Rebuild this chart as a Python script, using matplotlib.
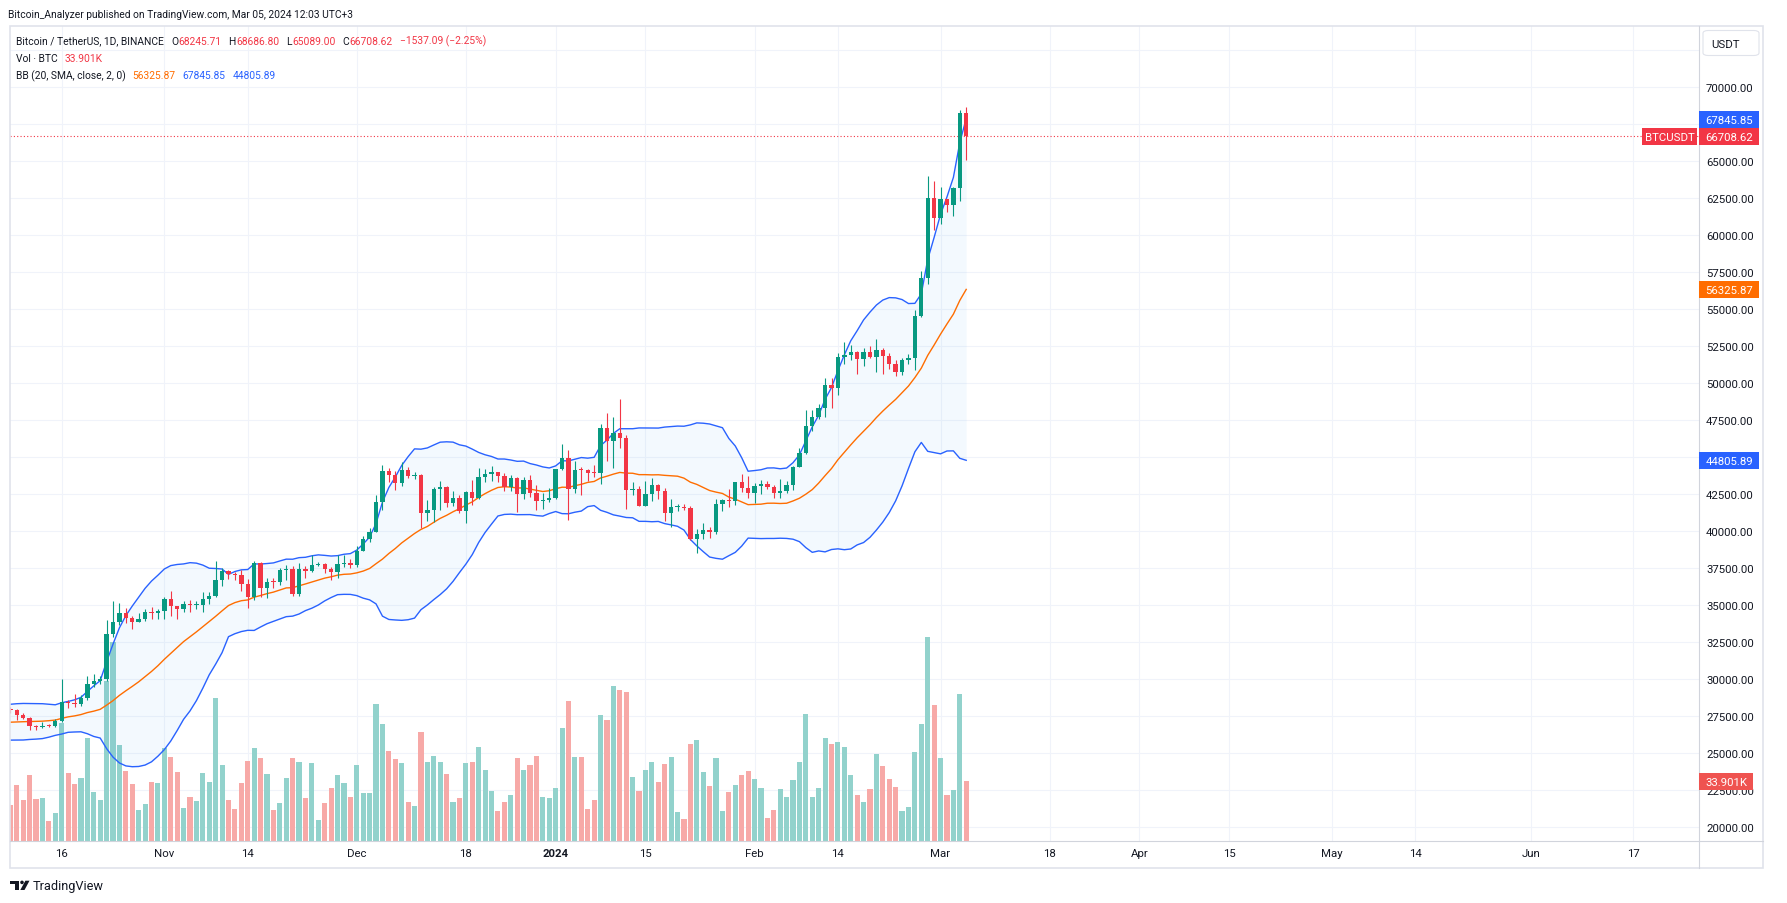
import numpy as np
import pandas as pd
import matplotlib
matplotlib.use("Agg")
import matplotlib.pyplot as plt
import matplotlib.dates as mdates
from matplotlib.patches import Rectangle, Polygon, Ellipse, FancyBboxPatch
from matplotlib.lines import Line2D
from matplotlib.transforms import blended_transform_factory

plt.rcParams['font.family'] = ['Roboto', 'DejaVu Sans']

# closes Sep 19 - Oct 7 2023, only used to warm up the 20 day bands
warmup_close = [27211, 27132, 26567, 26580, 26580, 26256, 26298, 26217, 26353, 27021,
                26911, 26967, 27983, 27531, 27429, 27794, 27410, 27932, 27957]

first_day = '2023-10-08'
opens = [
    # Oct 8-31
    27957, 27917, 27590, 27390, 26875, 26760, 26863, 26853, 27154, 28500, 28395, 28320,
    28714, 29670, 29910, 29993, 33086, 33902, 34497, 34152, 33892, 34082, 34526, 34475,
    # Nov
    34640, 35422, 34938, 34732, 35082, 35020, 35038, 35424, 35625, 36695, 37314, 37130,
    37064, 36462, 35551, 37880, 36154, 36596, 36568, 37360, 37449, 35750, 37420, 37289,
    37721, 37796, 37480, 37241, 37820, 37855,
    # Dec
    37712, 38688, 39476, 39979, 41980, 44080, 43773, 43292, 44167, 43726, 43790, 41244,
    41450, 42890, 43023, 41941, 42278, 41374, 42657, 42271, 43668, 43861, 43998, 43739,
    43017, 43614, 42520, 43442, 42581, 42066, 42140,
    # Jan
    42283, 44180, 44946, 42845, 44151, 44145, 43968, 43929, 46951, 46110, 46632, 46314,
    42782, 42847, 41732, 42511, 43143, 42742, 41262, 41618, 41665, 41545, 39508, 39845,
    40077, 39934, 41816, 42120, 42036, 43303, 42941,
    # Feb
    42580, 43082, 43200, 43011, 42582, 42708, 43098, 44349, 45288, 47132, 47751, 48299,
    49917, 49699, 51795, 51880, 52124, 51642, 52137, 51774, 52258, 51849, 51288, 50745,
    51572, 51733, 54522, 57085, 62504,
    # Mar
    61198, 62440, 62029, 63168, 68245.71]
highs = [
    28120, 27990, 27735, 27480, 26940, 27100, 26990, 27290, 30000, 28613, 28982, 28933,
    30207, 30344, 30200, 34000, 35280, 35132, 34830, 34245, 34488, 34750, 34857, 34720,
    35580, 35984, 34940, 35283, 35380, 35275, 35890, 35900, 37972, 37526, 37400, 37228,
    37417, 36744, 37980, 37934, 36845, 36832, 37540, 37750, 37650, 37892, 37653, 38414,
    37893, 37833, 37590, 38400, 38430, 38150,
    38998, 39700, 40250, 42420, 44490, 44300, 44044, 44700, 44370, 44040, 43843, 42105,
    43000, 43413, 43080, 42700, 42430, 42757, 43497, 44283, 44242, 44398, 44016, 43946,
    43802, 43650, 43683, 43804, 43124, 42612, 42899,
    44184, 45879, 45500, 44729, 44357, 44214, 44495, 47248, 47972, 47695, 48969, 46515,
    43346, 43079, 43400, 43578, 43198, 42930, 42195, 41865, 41870, 41689, 40127, 40555,
    40300, 42209, 42200, 42842, 43305, 43882, 43745,
    43285, 43488, 43380, 43119, 43535, 43400, 44396, 45614, 48200, 48170, 48592, 50334,
    50368, 52043, 52816, 52574, 52163, 52378, 52488, 52985, 52366, 52065, 51548, 51684,
    51958, 54938, 57588, 64000, 63676,
    63230, 62485, 63230, 68499, 68686.80]
lows = [
    27710, 27260, 27300, 26550, 26560, 26690, 26800, 26810, 27113, 28070, 28140, 28180,
    28600, 29460, 29660, 29880, 32840, 33700, 33830, 33390, 33870, 33930, 34080, 34060,
    34100, 34300, 34100, 34575, 34520, 34730, 34520, 35100, 35535, 36327, 36750, 36710,
    35950, 34800, 35360, 35545, 35510, 36160, 36400, 36700, 35632, 35632, 36870, 37250,
    37640, 37150, 36700, 36860, 37580, 37500,
    37600, 38650, 39300, 39960, 41420, 43335, 42820, 43080, 43580, 43565, 40222, 40680,
    40600, 41425, 41666, 41700, 41250, 40540, 41792, 42206, 43300, 43412, 43308, 42749,
    42720, 41300, 42167, 42318, 41424, 41520, 41965,
    42181, 44148, 40750, 42613, 42450, 43397, 43662, 43175, 44748, 44300, 45606, 41500,
    42436, 41720, 41718, 42050, 42200, 40683, 40280, 41394, 41450, 39431, 38555, 39484,
    39550, 39825, 41394, 41620, 41804, 42684, 42276,
    41884, 42546, 42881, 42222, 42258, 42574, 42788, 44331, 45242, 46800, 47557, 47710,
    48300, 49225, 51314, 51562, 50625, 51163, 51677, 50760, 50625, 50940, 50521, 50585,
    51279, 50931, 54450, 56690, 60364,
    60777, 61600, 61320, 62300, 65089.00]
closes = [
    27917, 27590, 27390, 26875, 26760, 26863, 26853, 27154, 28500, 28395, 28320, 28714,
    29670, 29910, 29993, 33086, 33902, 34497, 34152, 33892, 34082, 34526, 34475, 34640,
    35422, 34938, 34732, 35082, 35020, 35038, 35424, 35625, 36695, 37314, 37130, 37064,
    36462, 35551, 37880, 36154, 36596, 36568, 37360, 37449, 35750, 37420, 37289, 37721,
    37796, 37480, 37241, 37820, 37855, 37712,
    38688, 39476, 39979, 41980, 44080, 43773, 43292, 44167, 43726, 43790, 41244, 41450,
    42890, 43023, 41941, 42278, 41374, 42657, 42271, 43668, 43861, 43998, 43739, 43017,
    43614, 42520, 43442, 42581, 42066, 42140, 42283,
    44180, 44946, 42845, 44151, 44145, 43968, 43929, 46951, 46110, 46632, 46314, 42782,
    42847, 41732, 42511, 43143, 42742, 41262, 41618, 41665, 41545, 39508, 39845, 40077,
    39934, 41816, 42120, 42036, 43303, 42941, 42580,
    43082, 43200, 43011, 42582, 42708, 43098, 44349, 45288, 47132, 47751, 48299, 49917,
    49699, 51795, 51880, 52124, 51642, 52137, 51774, 52258, 51849, 51288, 50745, 51572,
    51733, 54522, 57085, 62504, 61198,
    62440, 62029, 63168, 68245.71, 66708.62]
# volume in thousand BTC
volume_k = [
    20.3, 31.6, 23.1, 37.3, 23.7, 24.2, 11.2, 15.7, 66.9, 38.4, 32.2, 35.6,
    58.3, 27.7, 23.1, 90.9, 113.1, 54.4, 39.6, 32.2, 17.4, 20.8, 33.3, 32.8,
    52.7, 47.5, 39.0, 18.8, 24.8, 22.5, 38.4, 33.3, 81.1, 43.0, 23.1, 18.0,
    32.8, 45.3, 52.7, 47.0, 37.9, 17.4, 21.4, 35.6, 47.0, 44.7, 24.2, 44.1,
    11.7, 21.4, 29.9, 37.3, 32.8, 24.8,
    43.0, 27.1, 27.1, 77.7, 66.3, 50.9, 46.4, 44.0, 22.0, 20.0, 62.0, 45.0,
    48.0, 45.0, 38.0, 22.0, 24.0, 44.0, 45.0, 53.0, 40.0, 28.0, 17.0, 22.0,
    26.0, 47.0, 40.0, 43.0, 48.0, 25.0, 24.0,
    30.0, 64.0, 79.4, 47.5, 47.5, 18.0, 23.1, 71.4, 68.6, 87.9, 85.6, 84.5,
    36.2, 28.2, 40.2, 44.7, 33.3, 43.6, 47.5, 16.3, 12.3, 54.9, 57.2, 39.0,
    31.1, 47.0, 16.9, 27.7, 31.6, 37.3, 39.6,
    35.0, 29.9, 12.9, 17.4, 29.4, 24.8, 34.5, 44.7, 72.0, 24.8, 29.9, 58.3,
    54.9, 56.1, 53.2, 37.3, 25.9, 22.0, 29.4, 49.2, 42.4, 35.0, 30.5, 16.9,
    19.1, 50.4, 66.3, 115.7, 77.1,
    47.0, 25.9, 28.8, 83.3, 33.901]

tick_dates = ['2023-10-16', '2023-11-01', '2023-11-14', '2023-12-01', '2023-12-18',
              '2024-01-01', '2024-01-15', '2024-02-01', '2024-02-14', '2024-03-01',
              '2024-03-18', '2024-04-01', '2024-04-15', '2024-05-01', '2024-05-14',
              '2024-06-01', '2024-06-17']
tick_labels = ['16', 'Nov', '14', 'Dec', '18', '2024', '15', 'Feb', '14', 'Mar',
               '18', 'Apr', '15', 'May', '14', 'Jun', '17']
price_ticks = [20000, 22500, 25000, 27500, 30000, 32500, 35000, 37500, 40000, 42500,
               45000, 47500, 50000, 52500, 55000, 57500, 60000, 62500, 65000, 67500, 70000]
# these two sit fully under the price tags
hidden_ticks = [45000, 67500]

last_close = 66708.62
bb_last = {'basis': 56325.87, 'upper': 67845.85, 'lower': 44805.89}
last_vol_text = '33.901K'

UP, DOWN = '#089981', '#F23645'
VUP, VDOWN = '#92D2CC', '#F7A9A7'
BLUE, ORANGE = '#2962FF', '#FF6D00'
TXT = '#131722'
GRID = '#F0F3FA'
LINEC = '#E0E3EB'

W, H = 1787, 904
fig = plt.figure(figsize=(W / 100, H / 100), dpi=100)
fig.patch.set_facecolor('white')


def fx(x):
    return x / W


def fy(y):
    return 1 - y / H


PL, PR, PT, PB = 10, 1699, 27, 841.7
rect = [fx(PL), fy(PB), (PR - PL) / W, (PB - PT) / H]
ax_vol = fig.add_axes(rect)
ax = fig.add_axes(rect, sharex=ax_vol)
ax.patch.set_visible(False)

dates = pd.date_range(first_day, periods=len(closes), freq='D')
xd = mdates.date2num(dates)
o = np.array(opens, float)
h = np.array(highs, float)
l = np.array(lows, float)
c = np.array(closes, float)
up = c >= o

# x scale: 6.415 px per day, Oct 16 sits at x=61.7
ref = mdates.date2num(pd.Timestamp('2023-10-16'))
ppd = 6.415
ax.set_xlim(ref - (61.7 - PL) / ppd, ref + (PR - 61.7) / ppd)
ax.set_ylim(19095, 74142)
ax_vol.set_ylim(0, (PB - PT) / 1.76)

# volume
ax_vol.bar(xd, volume_k, width=0.8, color=np.where(up, VUP, VDOWN), linewidth=0, zorder=2)

# grid (kept under the volume bars)
tx = mdates.date2num(pd.to_datetime(tick_dates))
for t in tx:
    ax_vol.axvline(t, color=GRID, lw=0.8, zorder=0)
gtrans = blended_transform_factory(ax_vol.transAxes, ax.transData)
for p in price_ticks + [72500]:
    ax_vol.add_line(Line2D([0, 1], [p, p], transform=gtrans, color=GRID, lw=0.8, zorder=0))

# bollinger bands 20, 2
s = pd.Series(warmup_close + closes, dtype=float)
n0 = len(warmup_close)
basis = s.rolling(20).mean().to_numpy()[n0:]
dev = s.rolling(20).std(ddof=0).to_numpy()[n0:]
upper = basis + 2 * dev
lower = basis - 2 * dev
ax.fill_between(xd, lower, upper, color='#2196F3', alpha=0.05, lw=0, zorder=1)
ax.plot(xd, upper, color=BLUE, lw=1.0, zorder=2)
ax.plot(xd, lower, color=BLUE, lw=1.0, zorder=2)
ax.plot(xd, basis, color=ORANGE, lw=1.0, zorder=2)

# candles
cols = np.where(up, UP, DOWN)
ax.vlines(xd, l, h, colors=cols, lw=0.8, zorder=3)
body = np.maximum(np.abs(c - o), 70)
ax.bar(xd, body, bottom=np.minimum(o, c), width=0.68, color=cols, linewidth=0, zorder=4)

ax.axhline(last_close, color=DOWN, lw=0.8, ls=(0, (1, 2)), zorder=2)

# axes cosmetics
for a in (ax, ax_vol):
    for sp in a.spines.values():
        sp.set_visible(False)
ax_vol.tick_params(left=False, labelleft=False, bottom=False, labelbottom=False)
ax.yaxis.tick_right()
ax.set_yticks(price_ticks)
ax.set_yticklabels(['' if p in hidden_ticks else f'{p:.2f}' for p in price_ticks])
ax.tick_params(axis='y', length=0, pad=5, labelsize=8.2, labelcolor=TXT)
ax.set_xticks(tx)
ax.set_xticklabels(tick_labels)
ax.tick_params(axis='x', length=0, pad=5.5, labelsize=8.2, labelcolor=TXT)
for lbl in ax.get_xticklabels():
    if lbl.get_text() == '2024':
        lbl.set_fontweight('bold')

# frame and separators
fig.add_artist(Rectangle((fx(9.5), fy(868.5)), (1762.5 - 9.5) / W, (868.5 - 27) / H,
                         transform=fig.transFigure, fill=False, ec=LINEC, lw=1.2, zorder=3))
fig.add_artist(Line2D([fx(PR), fx(PR)], [fy(27), fy(868.5)], transform=fig.transFigure,
                      color='#D1D4DC', lw=0.8, zorder=3))
fig.add_artist(Line2D([fx(PL), fx(1762.5)], [fy(PB), fy(PB)], transform=fig.transFigure,
                      color='#D1D4DC', lw=0.8, zorder=3))


def tag(ypx, x0, x1, color, text):
    fig.add_artist(Rectangle((fx(x0), fy(ypx + 8.5)), (x1 - x0) / W, 17 / H,
                             transform=fig.transFigure, fc=color, ec='none', zorder=5))
    fig.text(fx((x0 + x1) / 2), fy(ypx + 0.5), text, color='white', fontsize=8.2,
             ha='center', va='center', zorder=6)


def price_y(v, a=ax):
    return H - a.transData.transform((xd[0], v))[1]


tag(price_y(bb_last['upper']), PR, 1759, BLUE, f"{bb_last['upper']:.2f}")
tag(price_y(last_close), PR, 1759, DOWN, f'{last_close:.2f}')
tag(price_y(last_close), 1642, 1697, DOWN, 'BTCUSDT')
tag(price_y(bb_last['basis']), PR, 1759, ORANGE, f"{bb_last['basis']:.2f}")
tag(price_y(bb_last['lower']), PR, 1759, BLUE, f"{bb_last['lower']:.2f}")
tag(price_y(volume_k[-1], ax_vol), PR, 1753, '#EF5350', last_vol_text)

# USDT button
fig.add_artist(FancyBboxPatch((fx(1703), fy(56.5)), (1759 - 1703) / W, 25 / H,
                              boxstyle='round,pad=0,rounding_size=0.003',
                              transform=fig.transFigure, fc='white', ec=LINEC, lw=0.8, zorder=5))
fig.text(fx(1711), fy(44.5), 'USDT', color=TXT, fontsize=8.2, va='center', zorder=6)

# header and legend
fs = 7.4
renderer = fig.canvas.get_renderer()


def text_row(x, y, pieces):
    # pieces: (text, colour, gap in px to the next piece)
    for txt, col, gap in pieces:
        t = fig.text(fx(x), fy(y), txt, color=col, fontsize=fs, va='center')
        x += t.get_window_extent(renderer).width + gap


fig.text(fx(8), fy(15.5), 'Bitcoin_Analyzer published on TradingView.com, Mar 05, 2024 12:03 UTC+3',
         color=TXT, fontsize=fs, va='center')
text_row(16, 41.7, [('Bitcoin / TetherUS, 1D, BINANCE', TXT, 7),
                    ('O', TXT, 0.5), ('68245.71', DOWN, 7),
                    ('H', TXT, 0.5), ('68686.80', DOWN, 7),
                    ('L', TXT, 0.5), ('65089.00', DOWN, 7),
                    ('C', TXT, 0.5), ('66708.62', DOWN, 7),
                    ('\u22121537.09 (\u22122.25%)', DOWN, 0)])
text_row(16, 59.3, [('Vol \u00b7 BTC', TXT, 7), (last_vol_text, DOWN, 0)])
text_row(16, 76, [('BB (20, SMA, close, 2, 0)', TXT, 7),
                  (f"{bb_last['basis']:.2f}", ORANGE, 7),
                  (f"{bb_last['upper']:.2f}", BLUE, 7),
                  (f"{bb_last['lower']:.2f}", BLUE, 0)])

# TradingView logo
logo = dict(transform=fig.transFigure, fc=TXT, ec='none', zorder=5)
fig.add_artist(Rectangle((fx(10), fy(885.2)), 9.3 / W, 3.5 / H, **logo))
fig.add_artist(Rectangle((fx(15.3), fy(891)), 4 / W, 9.3 / H, **logo))
fig.add_artist(Ellipse((fx(22), fy(883.4)), 3.6 / W, 3.6 / H, **logo))
fig.add_artist(Polygon([(fx(20.3), fy(891)), (fx(24.5), fy(891)), (fx(29.5), fy(881.7)),
                        (fx(25.4), fy(881.7))], **logo))
fig.text(fx(33), fy(886.5), 'TradingView', color=TXT, fontsize=9.2, va='center')

fig.savefig('out.png', dpi=100)
